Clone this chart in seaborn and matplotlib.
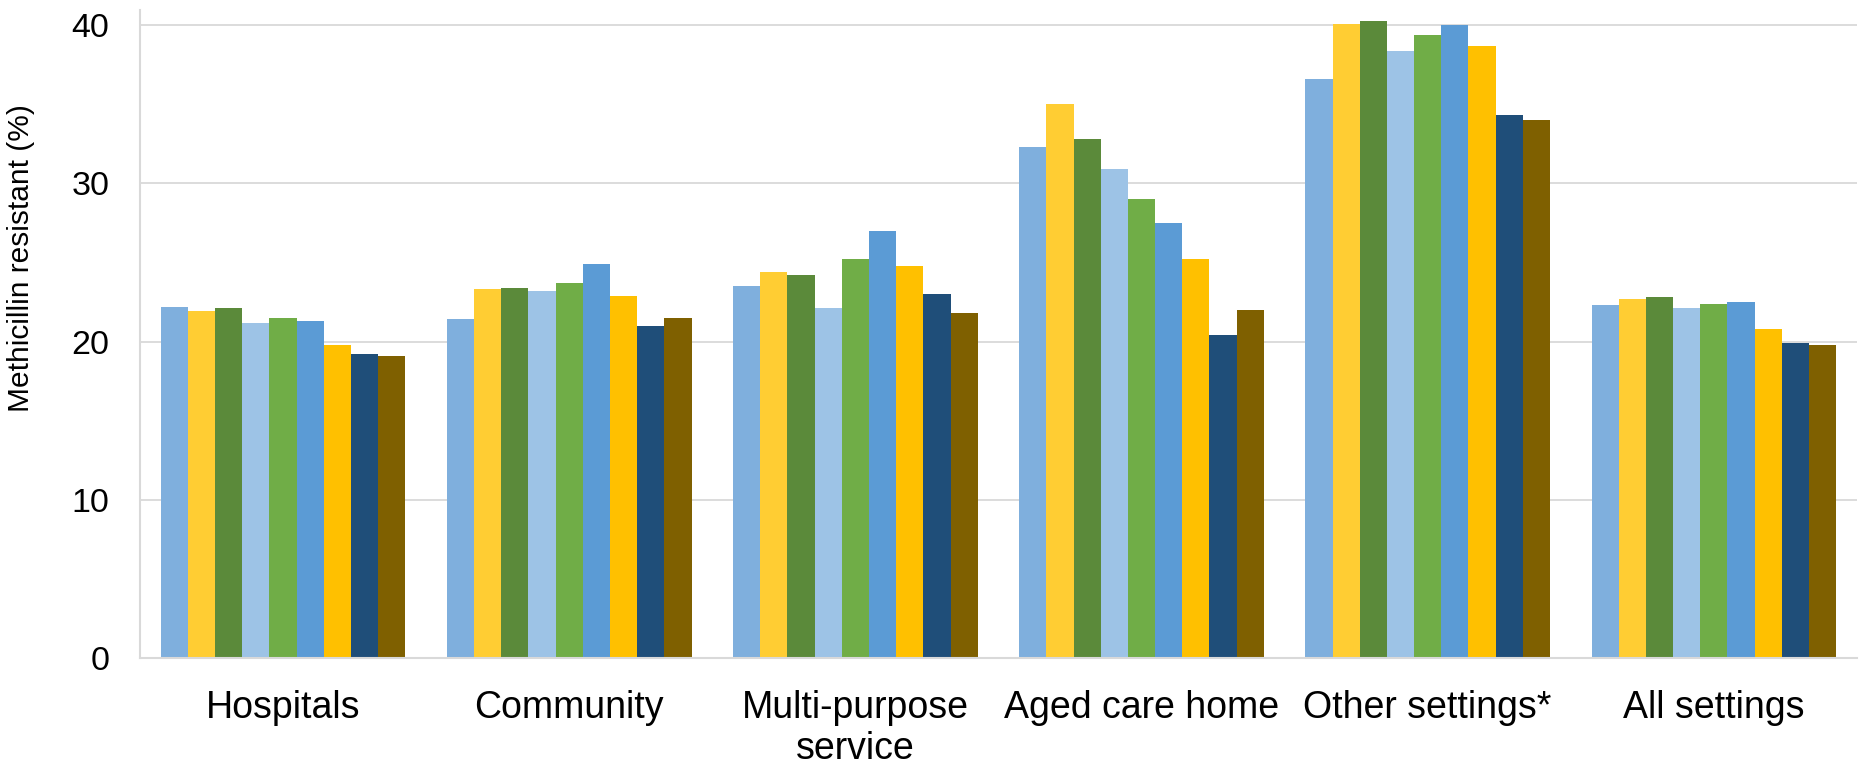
import matplotlib
matplotlib.use("Agg")
import matplotlib.pyplot as plt
import seaborn as sns
import pandas as pd

# Settings (x-axis groups)
settings = ["Hospitals", "Community", "Multi-purpose\nservice",
            "Aged care home", "Other settings*", "All settings"]

# Nine reporting periods, one value per setting (% methicillin resistant)
periods = ["P1", "P2", "P3", "P4", "P5", "P6", "P7", "P8", "P9"]

hospitals = [22.2, 21.9, 22.1, 21.2, 21.5, 21.3, 19.8, 19.2, 19.1]
community = [21.4, 23.3, 23.4, 23.2, 23.7, 24.9, 22.9, 21.0, 21.5]
multi_purpose = [23.5, 24.4, 24.2, 22.1, 25.2, 27.0, 24.8, 23.0, 21.8]
aged_care = [32.3, 35.0, 32.8, 30.9, 29.0, 27.5, 25.2, 20.4, 22.0]
other_settings = [36.6, 40.1, 40.3, 38.4, 39.4, 40.0, 38.7, 34.3, 34.0]
all_settings = [22.3, 22.7, 22.8, 22.1, 22.4, 22.5, 20.8, 19.9, 19.8]

series_colors = ["#7FAFDD", "#FFCD33", "#5B8A3A", "#9DC3E6", "#70AD47",
                 "#5B9BD5", "#FFC000", "#1F4E79", "#7F6000"]

rows = []
for setting, vals in zip(settings, [hospitals, community, multi_purpose,
                                    aged_care, other_settings, all_settings]):
    for period, v in zip(periods, vals):
        rows.append({"setting": setting, "period": period, "value": v})
df = pd.DataFrame(rows)

sns.set_theme(style="white")
plt.rcParams["font.family"] = ["Liberation Sans", "DejaVu Sans"]

fig = plt.figure(figsize=(18.64, 7.69), dpi=100)
ax = fig.add_axes([0.0751, 0.1447, 0.9211, 0.8429])

sns.barplot(data=df, x="setting", y="value", hue="period",
            order=settings, hue_order=periods, palette=series_colors,
            width=0.855, saturation=1, linewidth=0, legend=False, ax=ax)

ax.set_ylim(0, 41)
ax.set_yticks([0, 10, 20, 30, 40])
ax.set_xlim(-0.5, len(settings) - 0.5)
ax.yaxis.grid(True, color="#D9D9D9", linewidth=1.3)
ax.set_axisbelow(True)

for side in ["top", "right"]:
    ax.spines[side].set_visible(False)
for side in ["left", "bottom"]:
    ax.spines[side].set_color("#D9D9D9")
    ax.spines[side].set_linewidth(1.5)

ax.tick_params(axis="x", length=0, pad=23, labelsize=27, colors="black")
ax.tick_params(axis="y", length=0, pad=22, labelsize=24.5, colors="black")
for lbl in ax.get_xticklabels():
    lbl.set_linespacing(1.2)
ax.set_xlabel("")
ax.set_ylabel("Methicillin resistant (%)", fontsize=21.5, color="black")
ax.yaxis.set_label_coords(-0.061, 0.616)

fig.savefig("out.png", dpi=100)
